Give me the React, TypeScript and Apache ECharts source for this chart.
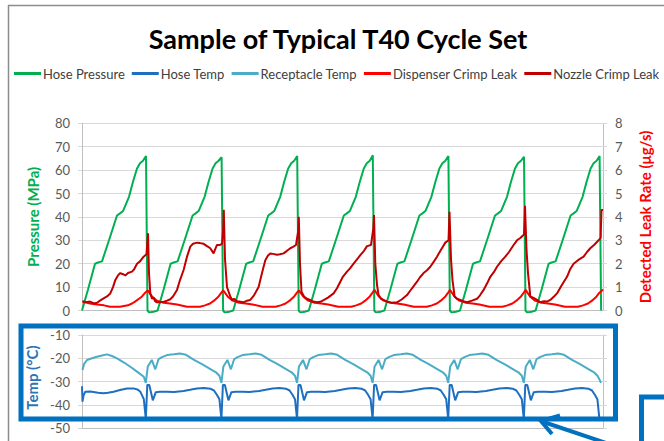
import React, { useEffect, useRef } from "react";
import * as echarts from "echarts";

const title = "Sample of Typical T40 Cycle Set";
const seriesNames = ["Hose Pressure", "Hose Temp", "Receptacle Temp", "Dispenser Crimp Leak", "Nozzle Crimp Leak"];
const seriesColors = ["#00B050", "#1F6FC0", "#4BACC6", "#FF0000", "#C00000"];
const pressureTicks = [0, 80, 10];
const leakTicks = [0, 8, 1];
const tempTicks = [-50, -10, 10];
const timeMax = 521;

// [time, MPa]
const hosePressure: number[][] = [
  [0,0],[6,9],[13,20],[16,20.5],[20,21],[27,30],[35,40.6],[38,41.5],[41,42.5],[47,48.6],[51,55],[55,60.7],[58,62.9],[61,64],[64,66],[65.5,0],[67,-0.8],[72,-0.5],
  [75.6,0],[81.6,9],[88.6,20],[91.6,20.5],[95.6,21],[102.6,30],[110.6,40.6],[113.6,41.5],[116.6,42.5],[122.6,48.6],[126.6,55],[130.6,60.7],[133.6,62.9],[136.6,64],[139.6,65.5],[141.1,0],[142.6,-0.8],[147.6,-0.5],
  [151.2,0],[157.2,9],[164.2,20],[167.2,20.5],[171.2,21],[178.2,30],[186.2,40.6],[189.2,41.5],[192.2,42.5],[198.2,48.6],[202.2,55],[206.2,60.7],[209.2,62.9],[212.2,64],[215.2,66],[216.7,0],[218.2,-0.8],[223.2,-0.5],
  [226.8,0],[232.8,9],[239.8,20],[242.8,20.5],[246.8,21],[253.8,30],[261.8,40.6],[264.8,41.5],[267.8,42.5],[273.8,48.6],[277.8,55],[281.8,60.7],[284.8,62.9],[287.8,64],[290.8,66.3],[292.3,0],[293.8,-0.8],[298.8,-0.5],
  [302.4,0],[308.4,9],[315.4,20],[318.4,20.5],[322.4,21],[329.4,30],[337.4,40.6],[340.4,41.5],[343.4,42.5],[349.4,48.6],[353.4,55],[357.4,60.7],[360.4,62.9],[363.4,64],[366.4,66],[367.9,0],[369.4,-0.8],[374.4,-0.5],
  [378,0],[384,9],[391,20],[394,20.5],[398,21],[405,30],[413,40.6],[416,41.5],[419,42.5],[425,48.6],[429,55],[433,60.7],[436,62.9],[439,64],[442,65.7],[443.5,0],[445,-0.8],[450,-0.5],
  [453.6,0],[459.6,9],[466.6,20],[469.6,20.5],[473.6,21],[480.6,30],[488.6,40.6],[491.6,41.5],[494.6,42.5],[500.6,48.6],[504.6,55],[508.6,60.7],[511.6,62.9],[514.6,64],[517.6,66],[519.1,0],
];

// [time, °C]
const hoseTemp: number[][] = [
  [0,-32],[0.5,-38.6],[1.5,-36],[3.3,-34.3],[8,-34.2],[11.6,-34.4],[16,-34.8],[21.6,-35],[26,-34.8],[31.6,-34.3],[38,-33.6],[45,-32.9],[51.6,-32.9],[56,-33.5],[58.3,-34.3],[61.8,-37.5],
  [63.8,-46],[65.3,-31.4],[67.3,-31.4],[70.8,-38],[73.8,-34.5],[78,-34.3],[85,-34.3],[92,-34.4],[101.6,-34],[108,-33.5],[115,-32.9],[122,-32.7],[128.3,-33],[132,-33.8],[135,-35.7],[137.4,-37.5],
  [139.4,-46],[140.9,-31.4],[142.9,-31.4],[146.4,-38],[149.4,-34.5],[153.6,-34.3],[160.6,-34.3],[167.6,-34.4],[177.2,-34],[183.6,-33.5],[190.6,-32.9],[197.6,-32.7],[203.9,-33],[207.6,-33.8],[210.6,-35.7],[213,-37.5],
  [215,-46],[216.5,-31.4],[218.5,-31.4],[222,-38],[225,-34.5],[229.2,-34.3],[236.2,-34.3],[243.2,-34.4],[252.8,-34],[259.2,-33.5],[266.2,-32.9],[273.2,-32.7],[279.5,-33],[283.2,-33.8],[286.2,-35.7],[288.6,-37.5],
  [290.6,-46],[292.1,-31.4],[294.1,-31.4],[297.6,-38],[300.6,-34.5],[304.8,-34.3],[311.8,-34.3],[318.8,-34.4],[328.4,-34],[334.8,-33.5],[341.8,-32.9],[348.8,-32.7],[355.1,-33],[358.8,-33.8],[361.8,-35.7],[364.2,-37.5],
  [366.2,-46],[367.7,-31.4],[369.7,-31.4],[373.2,-38],[376.2,-34.5],[380.4,-34.3],[387.4,-34.3],[394.4,-34.4],[404,-34],[410.4,-33.5],[417.4,-32.9],[424.4,-32.7],[430.7,-33],[434.4,-33.8],[437.4,-35.7],[439.8,-37.5],
  [441.8,-46],[443.3,-31.4],[445.3,-31.4],[448.8,-38],[451.8,-34.5],[456,-34.3],[463,-34.3],[470,-34.4],[479.6,-34],[486,-33.5],[493,-32.9],[500,-32.7],[506.3,-33],[510,-33.8],[513,-35.7],[515.4,-37.5],
  [517.4,-46],
];

// [time, °C]
const receptacleTemp: number[][] = [
  [0.5,-25],[2,-22.5],[5,-20.7],[10,-20],[15,-19.3],[20,-18.8],[25,-18.3],[30,-19],[35,-20],[42,-21.8],[48.3,-23.6],[55,-25.7],[61.8,-27.9],
  [63.8,-30.5],[65.8,-23.5],[69.8,-20.7],[73.3,-24.7],[76.6,-20.3],[80,-19.5],[85,-18.6],[92,-18.3],[98,-17.9],[104,-18.5],[112,-20.7],[120,-22.5],[128,-24.5],[134,-26],[137.4,-27.5],
  [139.4,-30.5],[141.4,-23.5],[145.4,-20.7],[148.9,-24.7],[152.2,-20.3],[155.6,-19.5],[160.6,-18.6],[167.6,-18.3],[173.6,-17.9],[179.6,-18.5],[187.6,-20.7],[195.6,-22.5],[203.6,-24.5],[209.6,-26],[213,-27.5],
  [215,-30.5],[217,-23.5],[221,-20.7],[224.5,-24.7],[227.8,-20.3],[231.2,-19.5],[236.2,-18.6],[243.2,-18.3],[249.2,-17.9],[255.2,-18.5],[263.2,-20.7],[271.2,-22.5],[279.2,-24.5],[285.2,-26],[288.6,-27.5],
  [290.6,-30.5],[292.6,-23.5],[296.6,-20.7],[300.1,-24.7],[303.4,-20.3],[306.8,-19.5],[311.8,-18.6],[318.8,-18.3],[324.8,-17.9],[330.8,-18.5],[338.8,-20.7],[346.8,-22.5],[354.8,-24.5],[360.8,-26],[364.2,-27.5],
  [366.2,-30.5],[368.2,-23.5],[372.2,-20.7],[375.7,-24.7],[379,-20.3],[382.4,-19.5],[387.4,-18.6],[394.4,-18.3],[400.4,-17.9],[406.4,-18.5],[414.4,-20.7],[422.4,-22.5],[430.4,-24.5],[436.4,-26],[439.8,-27.5],
  [441.8,-30.5],[443.8,-23.5],[447.8,-20.7],[451.3,-24.7],[454.6,-20.3],[458,-19.5],[463,-18.6],[470,-18.3],[476,-17.9],[482,-18.5],[490,-20.7],[498,-22.5],[506,-24.5],[512,-26],[515.4,-27.5],
  [517.4,-29],[519,-30.5],
];

// [time, µg/s]
const dispenserLeak: number[][] = [
  [0.5,0.38],[8,0.3],[15,0.26],[22,0.22],[28,0.16],[38,0.16],[46,0.22],[50,0.3],[53,0.38],[57,0.5],[60,0.6],[63,0.75],[65.6,0.86],
  [70,0.6],[75,0.42],[81.6,0.33],[88,0.3],[95,0.26],[105,0.16],[118,0.16],[123,0.22],[128,0.3],[132,0.42],[136.6,0.6],[139,0.74],[141.2,0.86],
  [145.6,0.6],[150.6,0.42],[157.2,0.33],[163.6,0.3],[170.6,0.26],[180.6,0.16],[193.6,0.16],[198.6,0.22],[203.6,0.3],[207.6,0.42],[212.2,0.6],[214.6,0.74],[216.8,0.86],
  [221.2,0.6],[226.2,0.42],[232.8,0.33],[239.2,0.3],[246.2,0.26],[256.2,0.16],[269.2,0.16],[274.2,0.22],[279.2,0.3],[283.2,0.42],[287.8,0.6],[290.2,0.74],[292.4,0.88],
  [296.8,0.6],[301.8,0.42],[308.4,0.33],[314.8,0.3],[321.8,0.26],[331.8,0.16],[344.8,0.16],[349.8,0.22],[354.8,0.3],[358.8,0.42],[363.4,0.6],[365.8,0.74],[368,0.88],
  [372.4,0.6],[377.4,0.42],[384,0.33],[390.4,0.3],[397.4,0.26],[407.4,0.16],[420.4,0.16],[425.4,0.22],[430.4,0.3],[434.4,0.42],[439,0.6],[441.4,0.74],[443.6,0.88],
  [448,0.6],[453,0.42],[459.6,0.33],[466,0.3],[473,0.26],[483,0.16],[496,0.16],[501,0.22],[506,0.3],[510,0.42],[514.6,0.6],[517,0.74],[521,0.9],
];

// [time, µg/s]
const nozzleLeak: number[][] = [
  [0.5,0.4],[4,0.35],[8,0.38],[12,0.3],[15,0.33],[18,0.42],[21.6,0.52],[25,0.6],[28.3,0.73],[31,1.0],[33.3,1.3],[36,1.5],[38.3,1.6],[41,1.55],[43.3,1.5],[46,1.6],[50,1.66],[52,1.75],[55,2.0],[58,2.1],[61.6,2.3],[64.5,2.4],[66,3.3],[67,1.6],[68.3,0.73],[70,0.5],[71.6,0.55],[73,0.4],[75,0.35],
  [78.3,0.35],[82,0.38],[85,0.42],[88.3,0.48],[91,0.6],[95,0.88],[98,1.3],[101.6,1.73],[105,2.3],[108.3,2.73],[111,2.85],[115,2.9],[118,2.88],[121.6,2.85],[125,2.75],[128.3,2.66],[131.6,2.44],[133,2.6],[135,2.8],[138,2.8],[140,2.85],[141.2,3.5],[141.8,4.3],[143,2.2],[145,1.0],[148.3,0.6],[150,0.45],[152,0.5],[155,0.4],
  [158,0.38],[161.6,0.35],[165,0.42],[168.3,0.45],[172,0.65],[176.6,1.0],[180,1.6],[183.3,2.15],[186,2.35],[188.3,2.44],[191,2.42],[195,2.38],[198,2.4],[201.6,2.44],[205,2.55],[208.3,2.66],[211,2.72],[214,2.8],[216.2,3.4],[216.8,4.0],[218,2.0],[219.5,0.8],[222,0.6],[225,0.5],[228,0.45],[231,0.38],[235,0.35],
  [238.3,0.37],[242,0.45],[246,0.55],[251.6,0.73],[255,0.95],[258.3,1.23],[261,1.45],[265,1.66],[268,1.8],[271.6,2.0],[275,2.18],[278.3,2.37],[282,2.55],[285,2.75],[289,2.8],[291.3,3.5],[292,4.08],[293.3,2.0],[295,1.1],[296.6,0.66],[299,0.5],[301.6,0.45],
  [305,0.38],[310,0.33],[315,0.35],[320,0.48],[325,0.66],[330,0.95],[335,1.23],[338,1.42],[341.6,1.6],[345,1.72],[348.3,1.87],[352,2.1],[355,2.3],[359,2.6],[363.3,2.9],[366.5,3.0],[367.5,4.22],[369,2.2],[370.5,1.3],[372.6,0.6],[375,0.5],[378.3,0.45],
  [381,0.4],[385,0.35],[390,0.42],[395,0.5],[398,0.65],[401.6,0.88],[405,1.15],[408.3,1.44],[412,1.65],[415,1.87],[419,2.1],[423.3,2.3],[427,2.5],[431.6,2.8],[435,3.0],[438.3,3.1],[442,3.25],[443,4.47],[444.5,2.6],[446,1.6],[448.3,0.6],[451,0.55],[453.3,0.5],[456,0.42],[458.3,0.35],
  [462,0.4],[465,0.38],[468.3,0.45],[472,0.6],[475,0.73],[480,1.1],[485,1.44],[488,1.75],[491.6,2.0],[496,2.15],[501.6,2.3],[505,2.5],[508.3,2.66],[512,2.8],[516.6,3.0],[518.6,3.1],[519.5,4.3],[521,4.3],
];

const FONT = "Lato, 'Open Sans', sans-serif";
const GRID_LINE = "#D9D9D9";
const AXIS_LINE = "#BFBFBF";
const LABEL = "#595959";

export default function App() {
  const ref = useRef<HTMLDivElement>(null);
  useEffect(() => {
    if (!ref.current) return;
    const chart = echarts.init(ref.current, undefined, { renderer: "svg" });
    const baseY = (gridIndex: number, t: number[], position: "left" | "right", extra: any) => ({
      type: "value",
      gridIndex,
      position,
      min: t[0],
      max: t[1],
      interval: t[2],
      axisLine: { show: true, lineStyle: { color: AXIS_LINE, width: 1 } },
      axisTick: { show: true, length: 4, lineStyle: { color: GRID_LINE } },
      splitLine: { show: position === "left", lineStyle: { color: GRID_LINE, width: 1 } },
      axisLabel: { color: LABEL, fontFamily: FONT, fontSize: 13, margin: 12 },
      nameLocation: "middle",
      nameRotate: 90,
      ...extra,
    });
    const xAx = (gridIndex: number) => ({
      type: "value",
      gridIndex,
      min: 0,
      max: timeMax,
      axisLine: { show: true, onZero: false, lineStyle: { color: AXIS_LINE } },
      axisTick: { show: false },
      axisLabel: { show: false },
      splitLine: { show: false },
    });
    const line = (name: string, i: number, data: number[][], xAxisIndex: number, yAxisIndex: number, clip = true) => ({
      name,
      type: "line",
      data,
      xAxisIndex,
      yAxisIndex,
      symbol: "none",
      clip,
      lineStyle: { color: seriesColors[i], width: 2 },
      itemStyle: { color: seriesColors[i] },
    });
    chart.setOption({
      animation: false,
      backgroundColor: "#FFFFFF",
      legend: {
        top: 67,
        left: 14,
        width: 650,
        padding: 0,
        icon: "rect",
        itemWidth: 27,
        itemHeight: 3,
        itemGap: 7,
        textStyle: { fontFamily: FONT, fontSize: 13, color: "#404040", padding: [0, 0, 0, -3] },
        data: seriesNames,
      },
      grid: [
        { left: 82, right: 61, top: 123.3, height: 187.2 },
        { left: 82, right: 61, top: 335, height: 93.3 },
      ],
      xAxis: [xAx(0), xAx(1)],
      yAxis: [
        baseY(0, pressureTicks, "left", {
          name: "Pressure (MPa)",
          nameGap: 42,
          nameTextStyle: { color: "#00B050", fontFamily: FONT, fontWeight: "bold", fontSize: 15 },
        }),
        baseY(0, leakTicks, "right", {
          name: "Detected Leak Rate (μg/s)",
          nameGap: 34,
          nameTextStyle: { color: "#FF0000", fontFamily: FONT, fontWeight: "bold", fontSize: 15 },
        }),
        baseY(1, tempTicks, "left", {
          name: "Temp (°C)",
          nameGap: 42,
          nameTextStyle: { color: "#2E75B6", fontFamily: FONT, fontWeight: "bold", fontSize: 15, padding: [0, 0, 0, 8] },
        }),
        baseY(1, tempTicks, "right", { axisLabel: { show: false } }),
      ],
      series: [
        line(seriesNames[0], 0, hosePressure, 0, 0, false),
        line(seriesNames[1], 1, hoseTemp, 1, 2),
        line(seriesNames[2], 2, receptacleTemp, 1, 2),
        line(seriesNames[3], 3, dispenserLeak, 0, 1),
        line(seriesNames[4], 4, nozzleLeak, 0, 1),
      ],
      graphic: [
        {
          type: "text",
          x: 338,
          y: 38,
          style: {
            text: title,
            textAlign: "center",
            textVerticalAlign: "middle",
            fontFamily: FONT,
            fontWeight: "bold",
            fontSize: 27,
            fill: "#000000",
          },
        },
        { type: "line", shape: { x1: 8, y1: 5.5, x2: 664, y2: 5.5 }, style: { stroke: "#8C8C8C", lineWidth: 1.5 } },
        { type: "line", shape: { x1: 8.5, y1: 5, x2: 8.5, y2: 441 }, style: { stroke: "#8C8C8C", lineWidth: 1.5 } },
        {
          type: "rect",
          shape: { x: 21, y: 326, width: 594.5, height: 93 },
          style: { fill: "none", stroke: "#0070C0", lineWidth: 5 },
          z: 100,
        },
        {
          type: "rect",
          shape: { x: 641.5, y: 397, width: 60, height: 80 },
          style: { fill: "none", stroke: "#0070C0", lineWidth: 5 },
          z: 100,
        },
        {
          type: "line",
          shape: { x1: 612, y1: 445, x2: 542, y2: 421.5 },
          style: { stroke: "#0070C0", lineWidth: 4 },
          z: 100,
        },
        {
          type: "polyline",
          shape: { points: [[560, 415.5], [541, 421], [552, 434]] },
          style: { stroke: "#0070C0", lineWidth: 4, fill: "none", lineJoin: "miter" },
          z: 100,
        },
      ],
    });
    return () => chart.dispose();
  }, []);
  return (
    <div
      ref={ref}
      style={{ position: "fixed", left: 0, top: 0, width: 664, height: 441, background: "#fff" }}
    />
  );
}
